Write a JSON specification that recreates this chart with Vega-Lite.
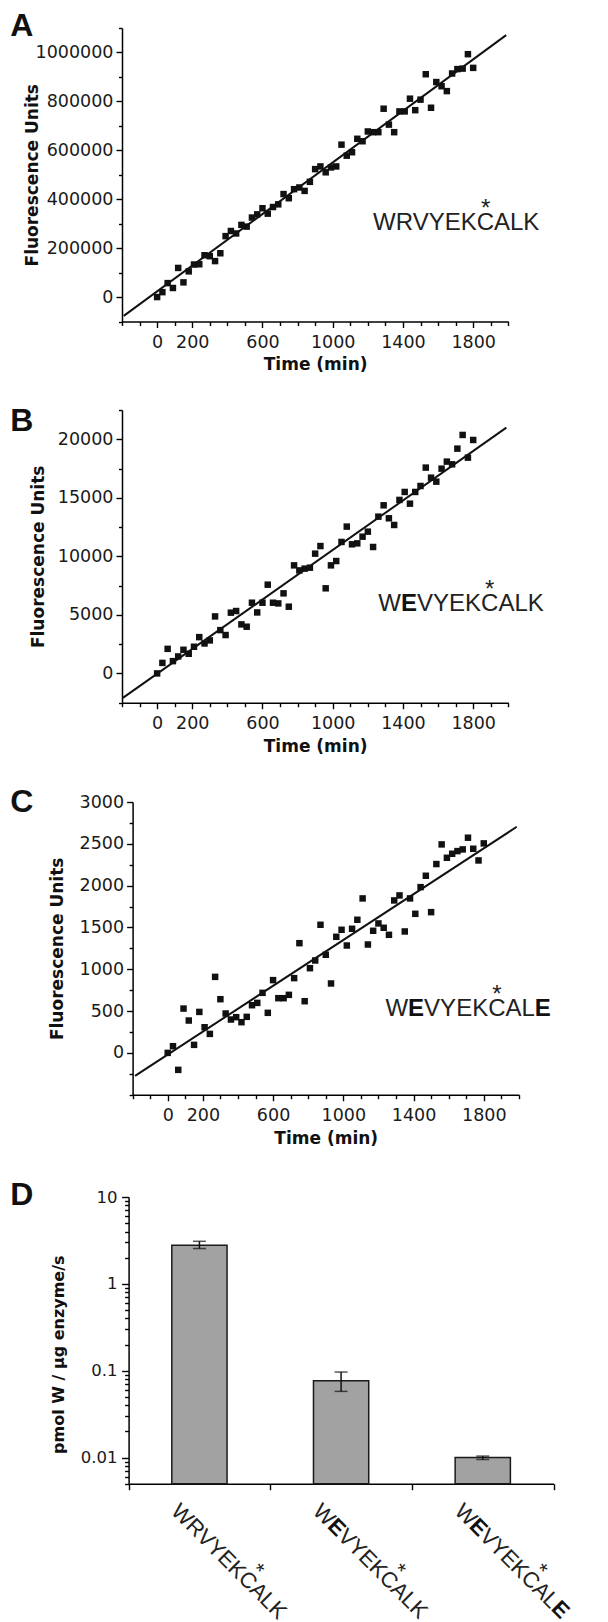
{
  "$schema": "https://vega.github.io/schema/vega-lite/v6.json",
  "background": "white",
  "padding": {"left": 10, "top": 10, "right": 0, "bottom": 0},
  "columns": 1,
  "align": "none",
  "spacing": 31,
  "config": {
    "view": {"stroke": null},
    "axis": {"domainColor": "#000", "tickColor": "#000", "domainWidth": 1.5, "tickWidth": 1.4, "labelFont": "DejaVu Sans", "labelColor": "#1a1a1a", "titleFont": "DejaVu Sans", "titleColor": "#111", "titleFontWeight": "bold", "titleFontSize": 16, "grid": false, "labelOverlap": false, "labelFlush": false}
  },
  "datasets": {
    "ptsA": [
      {"t":0,"f":0},{"t":30,"f":20000},{"t":60,"f":57000},{"t":90,"f":37000},{"t":120,"f":119000},{"t":150,"f":60000},{"t":180,"f":105000},{"t":210,"f":133000},{"t":240,"f":134000},{"t":270,"f":171000},{"t":300,"f":167000},{"t":330,"f":147000},{"t":360,"f":179000},{"t":390,"f":249000},{"t":420,"f":270000},{"t":450,"f":260000},{"t":480,"f":295000},{"t":510,"f":288000},{"t":540,"f":325000},{"t":570,"f":338000},{"t":600,"f":363000},{"t":630,"f":341000},{"t":660,"f":368000},{"t":690,"f":379000},{"t":720,"f":421000},{"t":750,"f":404000},{"t":780,"f":441000},{"t":810,"f":448000},{"t":840,"f":434000},{"t":870,"f":471000},{"t":900,"f":523000},{"t":930,"f":534000},{"t":960,"f":510000},{"t":990,"f":530000},{"t":1020,"f":534000},{"t":1050,"f":623000},{"t":1080,"f":578000},{"t":1110,"f":592000},{"t":1140,"f":647000},{"t":1170,"f":637000},{"t":1200,"f":677000},{"t":1230,"f":674000},{"t":1260,"f":674000},{"t":1290,"f":770000},{"t":1320,"f":705000},{"t":1350,"f":674000},{"t":1380,"f":759000},{"t":1410,"f":759000},{"t":1440,"f":811000},{"t":1470,"f":764000},{"t":1500,"f":807000},{"t":1530,"f":911000},{"t":1560,"f":774000},{"t":1590,"f":879000},{"t":1620,"f":862000},{"t":1650,"f":842000},{"t":1680,"f":914000},{"t":1710,"f":932000},{"t":1740,"f":934000},{"t":1770,"f":993000},{"t":1800,"f":937000}
    ],
    "ptsB": [
      {"t":0,"f":0},{"t":30,"f":900},{"t":60,"f":2100},{"t":90,"f":1050},{"t":120,"f":1450},{"t":150,"f":2020},{"t":180,"f":1680},{"t":210,"f":2280},{"t":240,"f":3100},{"t":270,"f":2560},{"t":300,"f":2820},{"t":330,"f":4870},{"t":360,"f":3700},{"t":390,"f":3280},{"t":420,"f":5190},{"t":450,"f":5330},{"t":480,"f":4190},{"t":510,"f":3990},{"t":540,"f":6040},{"t":570,"f":5210},{"t":600,"f":6040},{"t":630,"f":7580},{"t":660,"f":6040},{"t":690,"f":5980},{"t":720,"f":6840},{"t":750,"f":5700},{"t":780,"f":9230},{"t":810,"f":8800},{"t":840,"f":8950},{"t":870,"f":9030},{"t":900,"f":10230},{"t":930,"f":10880},{"t":960,"f":7270},{"t":990,"f":9230},{"t":1020,"f":9600},{"t":1050,"f":11230},{"t":1080,"f":12540},{"t":1110,"f":11030},{"t":1140,"f":11110},{"t":1170,"f":11680},{"t":1200,"f":12110},{"t":1230,"f":10800},{"t":1260,"f":13390},{"t":1290,"f":14360},{"t":1320,"f":13250},{"t":1350,"f":12680},{"t":1380,"f":14820},{"t":1410,"f":15500},{"t":1440,"f":14500},{"t":1470,"f":15500},{"t":1500,"f":16010},{"t":1530,"f":17580},{"t":1560,"f":16720},{"t":1590,"f":16380},{"t":1620,"f":17490},{"t":1650,"f":18090},{"t":1680,"f":17860},{"t":1710,"f":19200},{"t":1740,"f":20370},{"t":1770,"f":18430},{"t":1800,"f":19940}
    ],
    "ptsC": [
      {"t":0,"f":0},{"t":30,"f":80},{"t":60,"f":-203},{"t":90,"f":530},{"t":120,"f":387},{"t":150,"f":96},{"t":180,"f":490},{"t":210,"f":307},{"t":240,"f":227},{"t":270,"f":909},{"t":300,"f":642},{"t":330,"f":471},{"t":360,"f":399},{"t":390,"f":427},{"t":420,"f":367},{"t":450,"f":431},{"t":480,"f":570},{"t":510,"f":598},{"t":540,"f":718},{"t":570,"f":479},{"t":600,"f":870},{"t":630,"f":654},{"t":660,"f":654},{"t":690,"f":694},{"t":720,"f":894},{"t":750,"f":1312},{"t":780,"f":618},{"t":810,"f":1013},{"t":840,"f":1105},{"t":870,"f":1532},{"t":900,"f":1173},{"t":930,"f":830},{"t":960,"f":1388},{"t":990,"f":1472},{"t":1020,"f":1284},{"t":1050,"f":1484},{"t":1080,"f":1592},{"t":1110,"f":1847},{"t":1140,"f":1296},{"t":1170,"f":1460},{"t":1200,"f":1548},{"t":1230,"f":1496},{"t":1260,"f":1412},{"t":1290,"f":1823},{"t":1320,"f":1883},{"t":1350,"f":1452},{"t":1380,"f":1847},{"t":1410,"f":1663},{"t":1440,"f":1982},{"t":1470,"f":2118},{"t":1500,"f":1683},{"t":1530,"f":2258},{"t":1560,"f":2493},{"t":1590,"f":2333},{"t":1620,"f":2381},{"t":1650,"f":2413},{"t":1680,"f":2433},{"t":1710,"f":2573},{"t":1740,"f":2441},{"t":1770,"f":2301},{"t":1800,"f":2505}
    ],
    "lineA": [{"t":-190,"f":-77000},{"t":1988,"f":1071000}],
    "lineB": [{"t":-195,"f":-2085},{"t":1989,"f":21000}],
    "lineC": [{"t":-186,"f":-275},{"t":1988,"f":2704}],
    "rates": [
      {"peptide":"WRVYEKCALK","rate":2.78,"lo":2.55,"hi":3.09},
      {"peptide":"WEVYEKCALK","rate":0.0767,"lo":0.0578,"hi":0.0965},
      {"peptide":"WEVYEKCALE","rate":0.0100,"lo":0.0095,"hi":0.0104}
    ],
    "dlabels": [
      {"peptide":"WRVYEKCALK","part":"p1","s":"WRVYEKCALK"},
      {"peptide":"WEVYEKCALK","part":"p1","s":"W"},
      {"peptide":"WEVYEKCALK","part":"b1","s":"E"},
      {"peptide":"WEVYEKCALK","part":"p2","s":"VYEKCALK"},
      {"peptide":"WEVYEKCALE","part":"p1","s":"W"},
      {"peptide":"WEVYEKCALE","part":"b1","s":"E"},
      {"peptide":"WEVYEKCALE","part":"p2","s":"VYEKCAL"},
      {"peptide":"WEVYEKCALE","part":"b2","s":"E"},
      {"peptide":"WRVYEKCALK","part":"star","s":"*"},
      {"peptide":"WEVYEKCALK","part":"star","s":"*"},
      {"peptide":"WEVYEKCALE","part":"star","s":"*"}
    ]
  },
  "concat": [
    {
      "width": 386.3, "height": 293.5,
      "resolve": {"axis": {"x": "independent", "y": "independent"}},
      "layer": [
        {"data": {"name": "ptsA"}, "mark": {"type": "square", "size": 42, "color": "#111", "opacity": 1},
         "encoding": {
           "x": {"field": "t", "type": "quantitative", "scale": {"domain": [-200, 2000], "nice": false, "zero": false},
                 "axis": {"orient": "bottom", "title": "Time (min)", "values": [0,200,600,1000,1400,1800], "format": "d", "labelOverlap": false, "labelFlush": false, "tickSize": 6, "labelPadding": 5.6, "labelFontSize": 17.5, "titleFontSize": 17, "titleY": 48.4, "titleBaseline": "alphabetic"}},
           "y": {"field": "f", "type": "quantitative", "scale": {"domain": [-100000, 1100000], "nice": false, "zero": false},
                 "axis": {"orient": "left", "title": "Fluorescence Units", "values": [0,200000,400000,600000,800000,1000000], "format": "d", "labelOverlap": false, "tickSize": 6, "labelPadding": 3, "labelFontSize": 17.5, "titleFontSize": 17, "titleX": -81}}
         }},
        {"data": {"name": "lineA"}, "mark": {"type": "line", "color": "#111", "strokeWidth": 2},
         "encoding": {
           "x": {"field": "t", "type": "quantitative", "axis": {"orient": "bottom", "title": null, "labels": false, "domain": false, "tickSize": 4, "values": [-200,-100,100,300,400,500,700,800,900,1100,1200,1300,1500,1600,1700,1900,2000]}},
           "y": {"field": "f", "type": "quantitative", "axis": {"orient": "left", "title": null, "labels": false, "domain": false, "tickSize": 3.5, "values": [-100000,100000,300000,500000,700000,900000,1100000]}}}},
        {"data": {"values": [{"s": "A"}]}, "mark": {"type": "text", "font": "Liberation Sans", "fontSize": 32, "fontWeight": "bold", "align": "left", "baseline": "top", "dx": -111.7, "dy": -16.7, "color": "#111"},
         "encoding": {"text": {"field": "s"}, "x": {"datum": -200, "axis": null}, "y": {"datum": 1100000, "axis": null}}},
        {"data": {"values": [{"s": "WRVYEKCALK"}]}, "mark": {"type": "text", "font": "Liberation Sans", "fontSize": 24, "align": "left", "baseline": "alphabetic", "color": "#222"},
         "encoding": {"text": {"field": "s"}, "x": {"datum": 1230, "axis": null}, "y": {"datum": 275000, "axis": null}}},
        {"data": {"values": [{"s": "*"}]}, "mark": {"type": "text", "font": "Liberation Sans", "fontSize": 24, "align": "center", "baseline": "alphabetic", "dx": 112.7, "dy": -14, "color": "#222"},
         "encoding": {"text": {"field": "s"}, "x": {"datum": 1230, "axis": null}, "y": {"datum": 275000, "axis": null}}}
      ]
    },
    {
      "width": 386.3, "height": 292.7,
      "resolve": {"axis": {"x": "independent", "y": "independent"}},
      "layer": [
        {"data": {"name": "ptsB"}, "mark": {"type": "square", "size": 42, "color": "#111", "opacity": 1},
         "encoding": {
           "x": {"field": "t", "type": "quantitative", "scale": {"domain": [-200, 2000], "nice": false, "zero": false},
                 "axis": {"orient": "bottom", "title": "Time (min)", "values": [0,200,600,1000,1400,1800], "format": "d", "labelOverlap": false, "labelFlush": false, "tickSize": 6, "labelPadding": 5.6, "labelFontSize": 17.5, "titleFontSize": 17, "titleY": 48.4, "titleBaseline": "alphabetic"}},
           "y": {"field": "f", "type": "quantitative", "scale": {"domain": [-2500, 22500], "nice": false, "zero": false},
                 "axis": {"orient": "left", "title": "Fluorescence Units", "values": [0,5000,10000,15000,20000], "format": "d", "labelOverlap": false, "tickSize": 6, "labelPadding": 3, "labelFontSize": 17.5, "titleFontSize": 17, "titleX": -75}}
         }},
        {"data": {"name": "lineB"}, "mark": {"type": "line", "color": "#111", "strokeWidth": 2},
         "encoding": {
           "x": {"field": "t", "type": "quantitative", "axis": {"orient": "bottom", "title": null, "labels": false, "domain": false, "tickSize": 4, "values": [-200,-100,100,300,400,500,700,800,900,1100,1200,1300,1500,1600,1700,1900,2000]}},
           "y": {"field": "f", "type": "quantitative", "axis": {"orient": "left", "title": null, "labels": false, "domain": false, "tickSize": 3.5, "values": [-2500,2500,7500,12500,17500,22500]}}}},
        {"data": {"values": [{"s": "B"}]}, "mark": {"type": "text", "font": "Liberation Sans", "fontSize": 32, "fontWeight": "bold", "align": "left", "baseline": "top", "dx": -111.7, "dy": -4.2, "color": "#111"},
         "encoding": {"text": {"field": "s"}, "x": {"datum": -200, "axis": null}, "y": {"datum": 22500, "axis": null}}},
        {"data": {"values": [{"s": "W"}]}, "mark": {"type": "text", "font": "Liberation Sans", "fontSize": 24, "align": "left", "baseline": "alphabetic", "color": "#222"},
         "encoding": {"text": {"field": "s"}, "x": {"datum": 1260, "axis": null}, "y": {"datum": 5325, "axis": null}}},
        {"data": {"values": [{"s": "E"}]}, "mark": {"type": "text", "font": "Liberation Sans", "fontSize": 24, "fontWeight": "bold", "align": "left", "baseline": "alphabetic", "dx": 22.66, "color": "#111"},
         "encoding": {"text": {"field": "s"}, "x": {"datum": 1260, "axis": null}, "y": {"datum": 5325, "axis": null}}},
        {"data": {"values": [{"s": "VYEKCALK"}]}, "mark": {"type": "text", "font": "Liberation Sans", "fontSize": 24, "align": "left", "baseline": "alphabetic", "dx": 38.66, "color": "#222"},
         "encoding": {"text": {"field": "s"}, "x": {"datum": 1260, "axis": null}, "y": {"datum": 5325, "axis": null}}},
        {"data": {"values": [{"s": "*"}]}, "mark": {"type": "text", "font": "Liberation Sans", "fontSize": 24, "align": "center", "baseline": "alphabetic", "dx": 111.4, "dy": -14, "color": "#222"},
         "encoding": {"text": {"field": "s"}, "x": {"datum": 1260, "axis": null}, "y": {"datum": 5325, "axis": null}}}
      ]
    },
    {
      "width": 396.9, "height": 292.7,
      "resolve": {"axis": {"x": "independent", "y": "independent"}},
      "layer": [
        {"data": {"name": "ptsC"}, "mark": {"type": "square", "size": 42, "color": "#111", "opacity": 1},
         "encoding": {
           "x": {"field": "t", "type": "quantitative", "scale": {"domain": [-200, 2000], "range": [10.6, 396.9], "nice": false, "zero": false},
                 "axis": {"orient": "bottom", "title": "Time (min)", "values": [0,200,600,1000,1400,1800], "format": "d", "labelOverlap": false, "labelFlush": false, "tickSize": 6, "labelPadding": 5.6, "labelFontSize": 17.5, "titleFontSize": 17, "titleY": 48.4, "titleBaseline": "alphabetic"}},
           "y": {"field": "f", "type": "quantitative", "scale": {"domain": [-500, 3000], "nice": false, "zero": false},
                 "axis": {"orient": "left", "title": "Fluorescence Units", "offset": -10.6, "values": [0,500,1000,1500,2000,2500,3000], "format": "d", "labelOverlap": false, "tickSize": 6, "labelPadding": 3, "labelFontSize": 17.5, "titleFontSize": 17, "titleX": -66}}
         }},
        {"data": {"name": "lineC"}, "mark": {"type": "line", "color": "#111", "strokeWidth": 2},
         "encoding": {
           "x": {"field": "t", "type": "quantitative", "axis": {"orient": "bottom", "title": null, "labels": false, "domain": false, "tickSize": 4, "values": [-200,-100,100,300,400,500,700,800,900,1100,1200,1300,1500,1600,1700,1900,2000]}},
           "y": {"field": "f", "type": "quantitative", "axis": {"orient": "left", "title": null, "labels": false, "domain": false, "offset": -10.6, "tickSize": 3.5, "values": [-500,-250,250,750,1250,1750,2250,2750]}}}},
        {"data": {"values": [{"s": "C"}]}, "mark": {"type": "text", "font": "Liberation Sans", "fontSize": 32, "fontWeight": "bold", "align": "left", "baseline": "top", "dx": -122.3, "dy": -14.6, "color": "#111"},
         "encoding": {"text": {"field": "s"}, "x": {"datum": -200, "axis": null}, "y": {"datum": 3000, "axis": null}}},
        {"data": {"values": [{"s": "W"}]}, "mark": {"type": "text", "font": "Liberation Sans", "fontSize": 24, "align": "left", "baseline": "alphabetic", "color": "#222"},
         "encoding": {"text": {"field": "s"}, "x": {"datum": 1240, "axis": null}, "y": {"datum": 440, "axis": null}}},
        {"data": {"values": [{"s": "E"}]}, "mark": {"type": "text", "font": "Liberation Sans", "fontSize": 24, "fontWeight": "bold", "align": "left", "baseline": "alphabetic", "dx": 22.66, "color": "#111"},
         "encoding": {"text": {"field": "s"}, "x": {"datum": 1240, "axis": null}, "y": {"datum": 440, "axis": null}}},
        {"data": {"values": [{"s": "VYEKCAL"}]}, "mark": {"type": "text", "font": "Liberation Sans", "fontSize": 24, "align": "left", "baseline": "alphabetic", "dx": 38.66, "color": "#222"},
         "encoding": {"text": {"field": "s"}, "x": {"datum": 1240, "axis": null}, "y": {"datum": 440, "axis": null}}},
        {"data": {"values": [{"s": "E"}]}, "mark": {"type": "text", "font": "Liberation Sans", "fontSize": 24, "fontWeight": "bold", "align": "left", "baseline": "alphabetic", "dx": 149.4, "color": "#111"},
         "encoding": {"text": {"field": "s"}, "x": {"datum": 1240, "axis": null}, "y": {"datum": 440, "axis": null}}},
        {"data": {"values": [{"s": "*"}]}, "mark": {"type": "text", "font": "Liberation Sans", "fontSize": 24, "align": "center", "baseline": "alphabetic", "dx": 111.4, "dy": -14, "color": "#222"},
         "encoding": {"text": {"field": "s"}, "x": {"datum": 1240, "axis": null}, "y": {"datum": 440, "axis": null}}}
      ]
    },
    {
      "width": 431.6, "height": 286.7,
      "resolve": {"axis": {"y": "independent"}},
      "layer": [
        {"data": {"name": "rates"}, "mark": {"type": "bar", "fill": "#a2a2a2", "stroke": "#1a1a1a", "strokeWidth": 1.5, "width": {"band": 0.39}},
         "encoding": {
           "x": {"field": "peptide", "type": "nominal", "sort": null, "scale": {"domain": ["WRVYEKCALK","WEVYEKCALK","WEVYEKCALE"], "range": [6.6, 431.6], "paddingInner": 0, "paddingOuter": 0},
                 "axis": {"labels": false, "title": null, "tickBand": "extent", "tickSize": 6, "domainWidth": 1.5}},
           "y": {"field": "rate", "type": "quantitative", "scale": {"type": "log", "domain": [0.005, 10], "nice": false},
                 "axis": {"orient": "left", "title": null, "offset": -6.6, "values": [0.01, 0.1, 1, 10], "format": "~g", "labelOverlap": false, "tickSize": 7, "labelPadding": 4.6, "labelFontSize": 16.5}},
           "y2": {"datum": 0.005}
         }},
        {"data": {"name": "rates"}, "mark": {"type": "rule", "color": "#111", "strokeWidth": 1.5},
         "encoding": {"x": {"field": "peptide", "type": "nominal"},
                      "y": {"field": "lo", "type": "quantitative", "axis": {"orient": "left", "title": null, "labels": false, "domain": false, "offset": -6.6, "tickSize": 4, "values": [0.005,0.006,0.007,0.008,0.009,0.02,0.03,0.04,0.05,0.06,0.07,0.08,0.09,0.2,0.3,0.4,0.5,0.6,0.7,0.8,0.9,2,3,4,5,6,7,8,9]}},
                      "y2": {"field": "hi"}}},
        {"data": {"name": "rates"}, "mark": {"type": "tick", "color": "#111", "thickness": 1.5, "size": 13, "orient": "horizontal"},
         "encoding": {"x": {"field": "peptide", "type": "nominal"}, "y": {"field": "lo", "type": "quantitative", "axis": null}}},
        {"data": {"name": "rates"}, "mark": {"type": "tick", "color": "#111", "thickness": 1.5, "size": 13, "orient": "horizontal"},
         "encoding": {"x": {"field": "peptide", "type": "nominal"}, "y": {"field": "hi", "type": "quantitative", "axis": null}}},
        {"data": {"values": [{"s": "D"}]}, "mark": {"type": "text", "font": "Liberation Sans", "fontSize": 32, "fontWeight": "bold", "align": "left", "baseline": "top", "dx": -189.1, "dy": -17.2, "color": "#111"},
         "encoding": {"text": {"field": "s"}, "x": {"datum": "WRVYEKCALK", "type": "nominal"}, "y": {"datum": 10, "type": "quantitative", "axis": null}}},
        {"data": {"values": [{"s": "pmol W / μg enzyme/s"}]}, "mark": {"type": "text", "font": "DejaVu Sans", "fontSize": 16, "fontWeight": "bold", "angle": 270, "align": "center", "baseline": "bottom", "dx": 0, "dy": -132.1, "color": "#111"},
         "encoding": {"text": {"field": "s"}, "x": {"datum": "WRVYEKCALK", "type": "nominal"}, "y": {"datum": 0.153, "type": "quantitative", "axis": null}}},
        {"data": {"name": "dlabels"}, "transform": [{"filter": "datum.part == 'p1'"}],
         "mark": {"type": "text", "font": "Liberation Sans", "fontSize": 22, "angle": 45, "align": "left", "baseline": "alphabetic", "dx": -0.3, "dy": 41.2, "color": "#222"},
         "encoding": {"text": {"field": "s"}, "x": {"field": "peptide", "type": "nominal"}, "y": {"datum": 0.005, "type": "quantitative", "axis": null}}},
        {"data": {"name": "dlabels"}, "transform": [{"filter": "datum.part == 'b1'"}],
         "mark": {"type": "text", "font": "Liberation Sans", "fontSize": 22, "fontWeight": "bold", "angle": 45, "align": "left", "baseline": "alphabetic", "dx": 20.5, "dy": 41.2, "color": "#111"},
         "encoding": {"text": {"field": "s"}, "x": {"field": "peptide", "type": "nominal"}, "y": {"datum": 0.005, "type": "quantitative", "axis": null}}},
        {"data": {"name": "dlabels"}, "transform": [{"filter": "datum.part == 'p2'"}],
         "mark": {"type": "text", "font": "Liberation Sans", "fontSize": 22, "angle": 45, "align": "left", "baseline": "alphabetic", "dx": 35.1, "dy": 41.2, "color": "#222"},
         "encoding": {"text": {"field": "s"}, "x": {"field": "peptide", "type": "nominal"}, "y": {"datum": 0.005, "type": "quantitative", "axis": null}}},
        {"data": {"name": "dlabels"}, "transform": [{"filter": "datum.part == 'b2'"}],
         "mark": {"type": "text", "font": "Liberation Sans", "fontSize": 22, "fontWeight": "bold", "angle": 45, "align": "left", "baseline": "alphabetic", "dx": 136.6, "dy": 41.2, "color": "#111"},
         "encoding": {"text": {"field": "s"}, "x": {"field": "peptide", "type": "nominal"}, "y": {"datum": 0.005, "type": "quantitative", "axis": null}}},
        {"data": {"name": "dlabels"}, "transform": [{"filter": "datum.part == 'star'"}],
         "mark": {"type": "text", "font": "Liberation Sans", "fontSize": 22, "angle": 45, "align": "center", "baseline": "alphabetic", "dx": 102.2, "dy": 27.2, "color": "#222"},
         "encoding": {"text": {"field": "s"}, "x": {"field": "peptide", "type": "nominal"}, "y": {"datum": 0.005, "type": "quantitative", "axis": null}}}
      ]
    }
  ]
}
